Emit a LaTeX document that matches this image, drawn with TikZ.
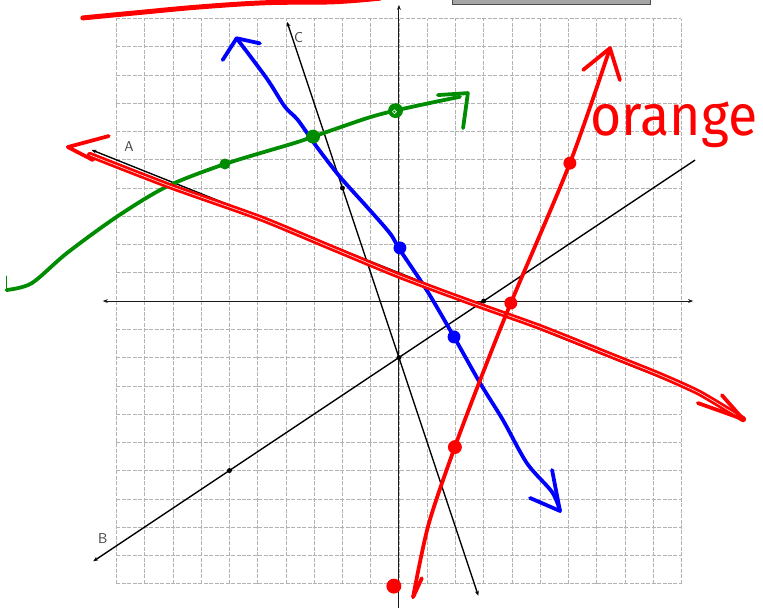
\documentclass[tikz,border=0pt]{standalone}
\usepackage{fontspec}
\usetikzlibrary{arrows.meta}
\newfontfamily\handfont{Fira Sans}
\definecolor{inkred}{RGB}{255,0,0}
\definecolor{inkblue}{RGB}{0,0,255}
\definecolor{inkgreen}{RGB}{0,140,0}
\begin{document}
\begin{tikzpicture}[x=1cm,y=1cm,
  gridline/.style={black!30, line width=0.6pt, dash pattern=on 4pt off 1.5pt},
  axisline/.style={black!90, line width=1pt},
  graphline/.style={black, line width=1.4pt},
  tipa/.style={{Stealth[length=5pt,width=4pt]}-{Stealth[length=5pt,width=4pt]}},
  tipl/.style={{Stealth[length=5pt,width=4pt]}-},
  ink/.style={line width=#1, line cap=round, line join=round},
  bdot/.style={circle, fill=black, inner sep=0pt, minimum size=5pt},
  cdot/.style={circle, fill=#1, inner sep=0pt, minimum size=13pt},
  lbl/.style={font=\sffamily\Large, text=black!75}
]
\useasboundingbox (-14.12,-10.832) rectangle (12.885,10.655);
\fill[white] (-14.12,-10.832) rectangle (12.885,10.655);

% grid
\foreach \i in {-10,...,10} {
  \draw[gridline] (\i,-10) -- (\i,10);
  \draw[gridline] (-10,\i) -- (10,\i);
}
% axes
\coordinate (xl) at (-10.48,0); \coordinate (xr) at (10.41,0);
\coordinate (yb) at (0,-10.9); \coordinate (yt) at (0,10.48);
\draw[axisline, tipa] (xl) -- (xr);
\draw[axisline, -{Stealth[length=5pt,width=4pt]}] (yb) -- (yt);

% gray bar at top
\draw[black!70, fill=black!35, line width=0.6pt] (1.88,10.51) rectangle (8.88,10.75);

% line C
\coordinate (Ct) at (-3.96,9.88); \coordinate (Cb) at (2.81,-10.43);
\draw[graphline, tipa] (Ct) -- (Cb);
\node[lbl] (labC) at (-3.55,9.33) {C};
% line B
\coordinate (Bl) at (-10.82,-9.21); \coordinate (Br) at (10.48,4.99);
\draw[graphline, tipl] (Bl) -- (Br);
\node[lbl] (labB) at (-10.48,-8.42) {B};
% line A
\coordinate (Al) at (-10.88,5.35); \coordinate (Ar) at (10.4,-3.16);
\draw[graphline, tipa] (Al) -- (Ar);
\node[lbl] (labA) at (-9.55,5.47) {A};
% black points
\node[bdot] (p1) at (-6,-6) {};
\node[bdot] (p2) at (0,-2) {};
\node[bdot] (p3) at (3,0) {};
\node[bdot] (p4) at (-2,4) {};

% red stroke at top
\draw[inkred, ink=5pt] plot[smooth, tension=0.6] coordinates
  {(-11.19,10.02) (-9.42,10.19) (-7.04,10.41) (-4.67,10.56) (-2.34,10.59) (-0.67,10.72)};

% blue curve
\draw[inkblue, ink=3.8pt] plot[smooth, tension=0.5] coordinates
  {(-5.745,9.30) (-4.68,7.88) (-4.04,6.88) (-3.58,6.41) (-2.91,5.46) (-2.09,4.40)
   (-1.14,3.34) (-0.32,2.40) (0.035,1.81) (0.98,0.39) (1.91,-1.20) (2.87,-2.90)
   (3.68,-4.21) (4.53,-5.74) (5.42,-6.76) (5.70,-7.43)};
\draw[inkblue, ink=3.8pt] (-6.24,8.53) -- (-5.745,9.30) -- (-4.92,9.12);
\draw[inkblue, ink=3.8pt] (4.64,-6.97) -- (5.70,-7.43) -- (5.42,-5.98);
\node[cdot=inkblue] (bd1) at (0.035,1.88) {};
\node[cdot=inkblue] (bd2) at (1.95,-1.27) {};

% green curve
\draw[inkgreen, ink=3.8pt] plot[smooth, tension=0.5] coordinates
  {(-13.89,0.39) (-13.0,0.63) (-11.76,1.69) (-9.99,2.98) (-8.22,4.05) (-6.16,4.85)
   (-3.74,5.58) (-3.03,5.82) (-1.14,6.47) (-0.18,6.73) (1.10,7.01) (2.16,7.23)};
\draw[inkgreen, ink=3.8pt] (1.38,7.29) -- (2.44,7.36) -- (2.27,6.12);
\draw[inkgreen, ink=1.2pt] (-13.88,0.88) -- (-13.88,0.35);
\node[cdot=inkgreen, minimum size=11pt] (gd1) at (-6.16,4.85) {};
\node[cdot=inkgreen, minimum size=14pt] (gd2) at (-3.04,5.82) {};
\node[cdot=inkgreen, minimum size=15pt] (gd3) at (-0.12,6.74) {};
\draw[white, line width=0.6pt] (-0.16,6.70) circle (0.07);

% red trace over line A
\draw[inkred, ink=2.8pt, double=white, double distance=0.5pt] plot[smooth, tension=0.4] coordinates
  {(-10.94,5.17) (-8.11,4.07) (-4.92,2.94) (-2.44,1.91) (0.035,0.885) (2.51,-0.035)
   (4.99,-0.92) (7.47,-1.91) (9.24,-2.62) (10.65,-3.26) (12.18,-4.18)};
\draw[inkred, ink=3.8pt] (-10.27,5.84) -- (-11.72,5.45) -- (-10.83,4.99);
\draw[inkred, ink=3.8pt] (11.43,-3.33) -- (12.18,-4.18) -- (10.58,-3.61);

% red line labelled orange
\draw[inkred, ink=3.8pt] plot[smooth, tension=0.5] coordinates
  {(0.50,-10.48) (1.05,-7.9) (1.98,-5.16) (2.95,-2.6) (3.96,-0.07)
   (6.05,4.88) (7.47,8.95)};
\draw[inkred, ink=3.8pt] (6.52,8.18) -- (7.47,8.95) -- (7.82,7.82);
\draw[inkred, ink=3.8pt] (0.81,-9.81) -- (0.50,-10.48);
\node[cdot=inkred] (rd1) at (6.05,4.88) {};
\node[cdot=inkred] (rd2) at (3.96,-0.07) {};
\node[cdot=inkred, minimum size=14pt] (rd3) at (1.98,-5.17) {};
\node[cdot=inkred, minimum size=15pt] (rd4) at (-0.18,-10.09) {};

% handwritten label
\node[anchor=base west, inner sep=0pt, text=inkred, font=\handfont\fontsize{58}{60}\selectfont, xscale=0.93] (orange) at (6.78,5.85) {orange};
\end{tikzpicture}
\end{document}
